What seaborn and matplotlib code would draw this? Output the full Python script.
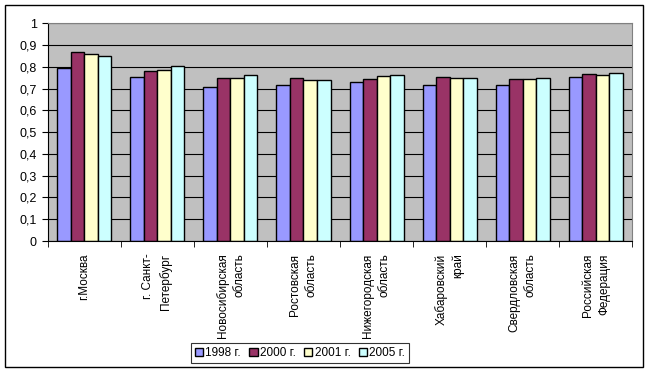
import numpy as np
import pandas as pd
import seaborn as sns
import matplotlib.pyplot as plt
from matplotlib.patches import Rectangle
from matplotlib.ticker import FixedLocator

regions = ['г.Москва', 'г. Санкт-\nПетербург', 'Новосибирская\nобласть', 'Ростовская\nобласть',
           'Нижегородская\nобласть', 'Хабаровский\nкрай', 'Свердловская\nобласть', 'Российская\nФедерация']
years = ['1998 г.', '2000 г.', '2001 г.', '2005 г.']

v1998 = [0.797, 0.752, 0.706, 0.715, 0.729, 0.715, 0.715, 0.752]
v2000 = [0.867, 0.781, 0.747, 0.747, 0.743, 0.752, 0.743, 0.766]
v2001 = [0.858, 0.785, 0.747, 0.738, 0.756, 0.747, 0.743, 0.761]
v2005 = [0.848, 0.802, 0.761, 0.738, 0.761, 0.747, 0.747, 0.770]

colors = ['#9999FF', '#993366', '#FFFFCC', '#CCFFFF']

df = pd.DataFrame({
    'region': regions * 4,
    'year': np.repeat(years, len(regions)),
    'value': v1998 + v2000 + v2001 + v2005,
})

plt.rcParams['font.family'] = ['Liberation Sans', 'DejaVu Sans']
plt.rcParams['font.size'] = 8

fig = plt.figure(figsize=(6.48, 3.71), dpi=100)
ax = fig.add_axes([0.0736, 0.3504, 0.9022, 0.5866])
ax.set_facecolor('#C0C0C0')

sns.barplot(data=df, x='region', y='value', hue='year', palette=colors, saturation=1,
            edgecolor='black', linewidth=1, width=0.74, ax=ax, legend=True)

ax.set_ylim(0, 1)
ax.set_xlim(-0.5, len(regions) - 0.5)
yt = np.round(np.arange(0, 1.01, 0.1), 1)
ax.set_yticks(yt)
ax.set_yticklabels(['{:g}'.format(v).replace('.', ',') for v in yt], fontsize=9)
ax.grid(axis='y', color='black', linewidth=0.8)
ax.set_axisbelow(True)
ax.set_xlabel('')
ax.set_ylabel('')

ax.set_xticks(range(len(regions)))
ax.set_xticklabels(regions, rotation=90, va='top', ha='center', multialignment='right',
                   linespacing=1.5, fontsize=8.5)
ax.tick_params(axis='x', which='major', length=0, pad=9)
ax.xaxis.set_minor_locator(FixedLocator(np.arange(-0.5, len(regions), 1)))
ax.tick_params(axis='x', which='minor', length=4, color='black', direction='out')
ax.tick_params(axis='y', length=4, color='black', direction='out', pad=4)

for side in ['left', 'bottom']:
    ax.spines[side].set_color('black')
    ax.spines[side].set_linewidth(0.8)
for side in ['top', 'right']:
    ax.spines[side].set_color('#808080')
    ax.spines[side].set_linewidth(0.8)

handles, labels = ax.get_legend_handles_labels()
ax.get_legend().remove()
leg = fig.legend(handles, labels, loc='center', bbox_to_anchor=(0.463, 0.0485), ncol=4,
                 frameon=True, fancybox=False, edgecolor='black', handlelength=0.7,
                 handleheight=0.7, handletextpad=0.2, columnspacing=0.7, borderpad=0.3,
                 borderaxespad=0, fontsize=8.5)
leg.get_frame().set_linewidth(0.8)

fig.patches.append(Rectangle((5 / 648, 1 - 367 / 371), 638 / 648, 362 / 371,
                             transform=fig.transFigure, fill=False, edgecolor='black',
                             linewidth=1))

fig.savefig('out.png', dpi=100)
